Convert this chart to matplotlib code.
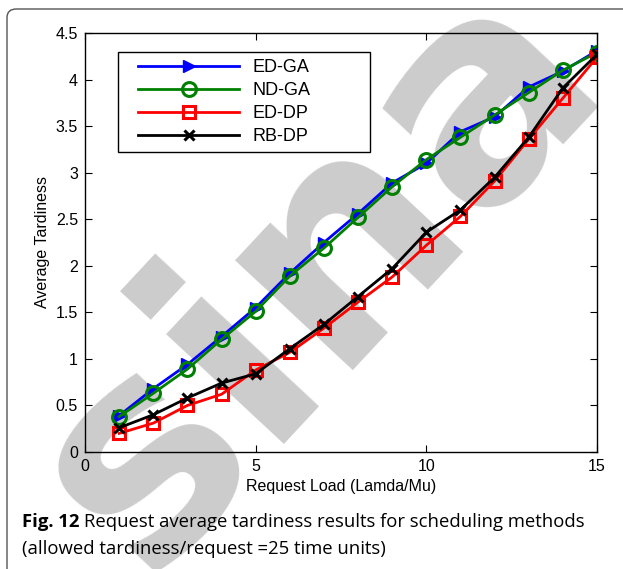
import numpy as np
import matplotlib
matplotlib.use("Agg")
import matplotlib.pyplot as plt
from matplotlib.patches import FancyBboxPatch, Rectangle

# data
load = [1, 2, 3, 4, 5, 6, 7, 8, 9, 10, 11, 12, 13, 14, 15]
ed_ga = [0.39, 0.68, 0.94, 1.24, 1.55, 1.92, 2.25, 2.56, 2.89, 3.10, 3.44, 3.60, 3.92, 4.09, 4.31]
nd_ga = [0.38, 0.63, 0.89, 1.21, 1.51, 1.89, 2.19, 2.52, 2.85, 3.14, 3.38, 3.62, 3.86, 4.10, 4.29]
ed_dp = [0.20, 0.31, 0.50, 0.62, 0.88, 1.07, 1.33, 1.61, 1.88, 2.22, 2.53, 2.91, 3.36, 3.80, 4.24]
rb_dp = [0.26, 0.40, 0.58, 0.74, 0.84, 1.11, 1.37, 1.67, 1.97, 2.36, 2.60, 2.95, 3.38, 3.91, 4.27]

xticks = [0, 5, 10, 15]
yticks = [0, 0.5, 1, 1.5, 2, 2.5, 3, 3.5, 4, 4.5]
ytick_labels = ["0", "0.5", "1", "1.5", "2", "2.5", "3", "3.5", "4", "4.5"]

W, H = 623, 569
fig = plt.figure(figsize=(W / 100, H / 100), dpi=100)
plt.rcParams['font.family'] = ['Liberation Sans', 'DejaVu Sans']

# page frame (rounded top-left corner)
frame = FancyBboxPatch((7 / W, -0.2), 1.2, 1.2 - 9 / H,
                       boxstyle="round,pad=0,rounding_size=0.015",
                       transform=fig.transFigure, fill=False,
                       edgecolor="#555555", linewidth=1.0, zorder=-5)
fig.patches.append(frame)

# watermark
fig.text(318 / W, 1 - 272 / H, "sina", rotation=47, fontsize=212,
         fontweight="bold", color="#cccccc", ha="center", va="center",
         family="DejaVu Sans", zorder=-2)

# axes box in pixels: x 85..597, y 33..452
ax = fig.add_axes([85 / W, 1 - 452 / H, 512 / W, 419 / H])
ax.set_facecolor("none")

lw = 2
ax.plot(load, ed_ga, color="#0000ff", lw=lw, marker=">", ms=9,
        mfc="#0000ff", mec="#0000ff", label="ED-GA")
ax.plot(load, nd_ga, color="#008000", lw=lw, marker="o", ms=10,
        mfc="none", mec="#008000", mew=2.2, label="ND-GA")
ax.plot(load, ed_dp, color="#ff0000", lw=lw, marker="s", ms=9,
        mfc="none", mec="#ff0000", mew=2.2, label="ED-DP")
ax.plot(load, rb_dp, color="#000000", lw=lw, marker="x", ms=7,
        mec="#000000", mew=2.2, label="RB-DP")

ax.set_xlim(0, 15)
ax.set_ylim(0, 4.5)
ax.set_xticks(xticks)
ax.set_yticks(yticks)
ax.set_yticklabels(ytick_labels)
ax.tick_params(direction="in", top=True, right=True, labelsize=11.5,
               length=5, width=0.8, pad=5)
for s in ax.spines.values():
    s.set_linewidth(1.0)

ax.set_xlabel("Request Load (Lamda/Mu)", fontsize=11.5, labelpad=4)
ax.set_ylabel("Average Tardiness", fontsize=11.5, labelpad=4)

# legend: MATLAB-like wide box drawn by hand, entries without frame
box = Rectangle(((118 - 85) / 512, (452 - 152) / 419), (370 - 118) / 512,
                (152 - 52) / 419, transform=ax.transAxes, facecolor="white",
                edgecolor="black", linewidth=1.0, zorder=4)
ax.add_patch(box)
leg = ax.legend(loc="upper left", bbox_to_anchor=((138 - 85) / 512, (452 - 59) / 419),
                fontsize=13, handlelength=5.6, borderaxespad=0, borderpad=0,
                frameon=False, labelspacing=0.34, handletextpad=0.75)
leg.set_zorder(5)

# caption
cap_font = ['Open Sans', 'DejaVu Sans']
cap_size = 13.3
t1 = fig.text(22 / W, 1 - 522 / H, "Fig. 12", fontsize=cap_size, fontweight="bold",
              family=cap_font, va="center", ha="left")
fig.canvas.draw()
bb = t1.get_window_extent(fig.canvas.get_renderer())
fig.text((bb.x1 + 5) / W, 1 - 522 / H,
         "Request average tardiness results for scheduling methods",
         fontsize=cap_size, family=cap_font, va="center", ha="left")
fig.text(22 / W, 1 - 549 / H, "(allowed tardiness/request =25 time units)",
         fontsize=cap_size, family=cap_font, va="center", ha="left")

fig.savefig("out.png", dpi=100)
